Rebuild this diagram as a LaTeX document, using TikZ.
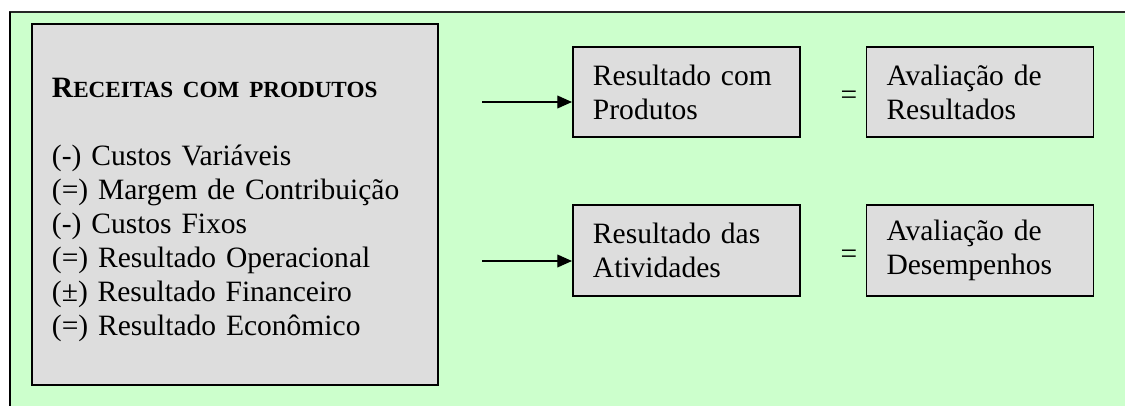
\documentclass[tikz,border=0pt]{standalone}
\usepackage{fontspec}
\setmainfont{Liberation Serif}
\usepackage{xcolor}
\usepackage{tikz}
\usetikzlibrary{arrows.meta}
\definecolor{panelgreen}{RGB}{204,255,204}
\definecolor{boxgray}{RGB}{221,221,221}
\newcommand{\pxu}{0.4065pt}

\begin{document}
\begin{tikzpicture}[x=\pxu, y=-\pxu,
  textfont/.style={font=\fontsize{12}{13.8}\selectfont},
  grayblock/.style={draw, line width=0.8pt, fill=boxgray, textfont, align=left, inner xsep=8.13pt, inner ysep=0pt},
  resbox/.style={grayblock, text width=76.02pt, minimum height=36.6pt},
  feed/.style={line width=0.6pt, -{Triangle[length=6pt,width=5.2pt]}}]
  \useasboundingbox (0,0) rectangle (1125,406);
  % green panel, open at right and bottom
  \fill[panelgreen] (9,12) rectangle (1125,406);
  \draw[line width=0.6pt, black!85] (9,12) -- (1125,12);
  \draw[line width=1.2pt] (10,11.7) -- (10,406);

  \node[grayblock, minimum width=165.04pt, minimum height=146.75pt] (contas) at (235,204.5) {};
  \node[textfont, align=left, text width=148.78pt, inner sep=0pt] (lista) at ([yshift=-2.3pt]contas.center) {%
    \textbf{R{\fontsize{9.4}{11}\selectfont ECEITAS COM PRODUTOS}}\\[13.8pt]
    (-) Custos Variáveis\\
    (=) Margem de Contribuição\\
    (-) Custos Fixos\\
    (=) Resultado Operacional\\
    (±) Resultado Financeiro\\
    (=) Resultado Econômico};

  \node[resbox] (resprod) at (686.5,92) {Resultado com\\Produtos};
  \node[resbox] (resativ) at (686.5,250.5) {Resultado das\\Atividades};
  \node[resbox] (avalres) at (980,92) {Avaliação de\\Resultados};
  \node[resbox] (avaldes) at (980,250.5) {Avaliação de\\Desempenhos};

  \node[textfont] (igual1) at (849,98) {=};
  \node[textfont] (igual2) at (849,257) {=};

  \coordinate (ent1) at (482,102);
  \coordinate (ent2) at (482,261);
  \draw[feed] (ent1) -- (ent1 -| resprod.west);
  \draw[feed] (ent2) -- (ent2 -| resativ.west);
\end{tikzpicture}
\end{document}
